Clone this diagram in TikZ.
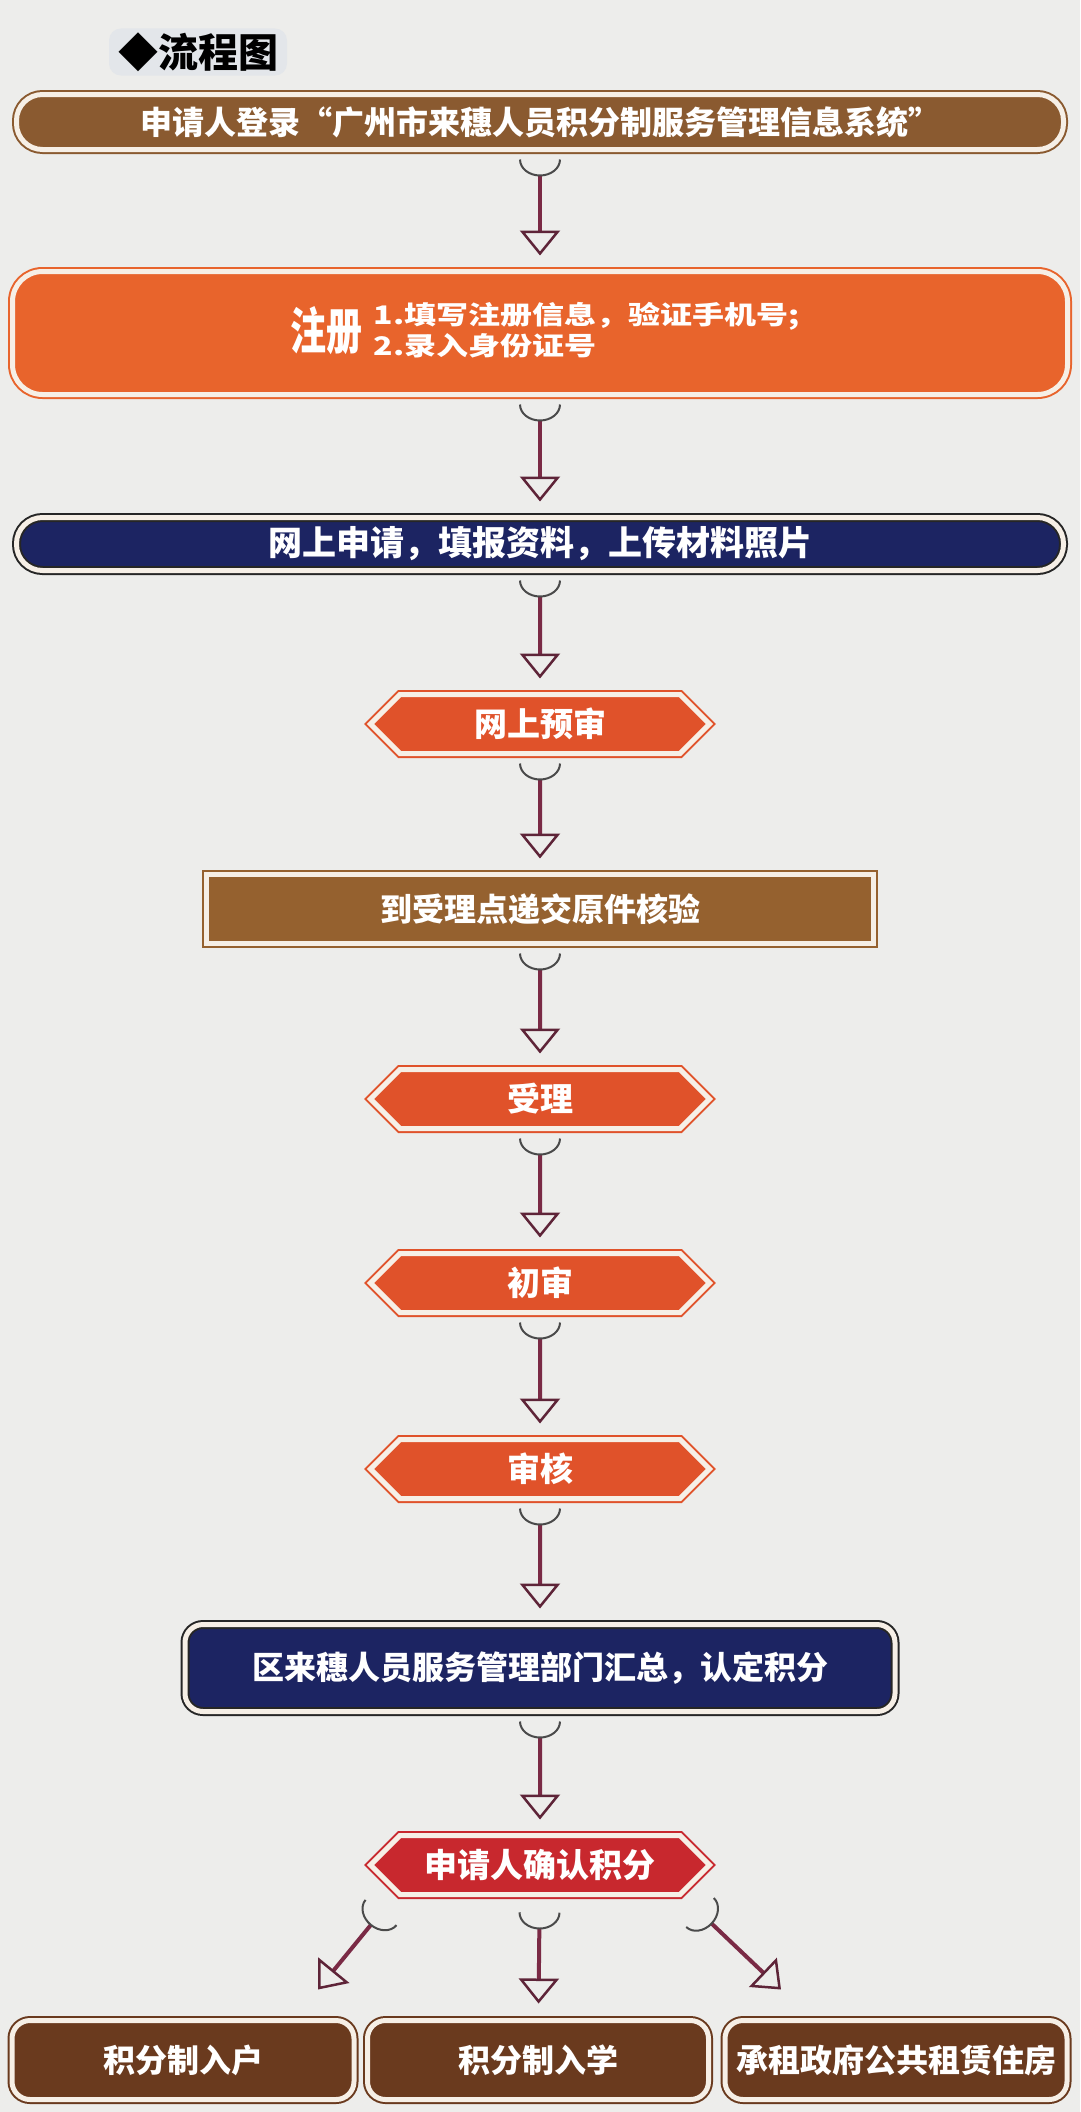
\documentclass[tikz,border=0pt]{standalone}
\usepackage{fontspec}
\usepackage{graphicx}
\newfontfamily\cjk{Noto Sans CJK SC}
\usetikzlibrary{arrows.meta}
\usetikzlibrary{positioning}
\usetikzlibrary{shapes.symbols}
\definecolor{paper}{HTML}{EDEDEB}
\definecolor{titlebg}{HTML}{E3E6EA}
\definecolor{cream}{HTML}{F6EFE6}
\definecolor{brownA}{HTML}{8A5A30}
\definecolor{brownB}{HTML}{95612F}
\definecolor{brownC}{HTML}{6A3A1E}
\definecolor{orangeA}{HTML}{E8642C}
\definecolor{orangeB}{HTML}{E0522A}
\definecolor{navy}{HTML}{1C2462}
\definecolor{redA}{HTML}{C8282E}
\definecolor{stem}{HTML}{7A2A45}
\definecolor{cupc}{HTML}{4A4A4A}
\definecolor{tipc}{HTML}{5E2438}
\tikzset{box/.style = {draw=#1, fill=#1, double=cream, double distance=5pt,
                       line width=2pt, text=white, inner sep=0pt, align=center,
                       font=\cjk\bfseries\fontsize{32}{34}\selectfont}}
\tikzset{pill/.style = {box=#1, rounded corners=26pt}}
\tikzset{hexbox/.style = {box=#1, shape=signal, signal to=east and west,
                          signal from=nowhere, signal pointer angle=90,
                          minimum width=339pt, minimum height=59pt,
                          font=\cjk\bfseries\fontsize{33}{35}\selectfont}}
\tikzset{flow/.style = {draw=stem, line width=4pt,
                        {Arc Barb[reversed, width=42pt, length=17pt, line width=2pt, color=cupc]}-{Triangle[open, width=40pt, length=25pt, line width=2.5pt, color=tipc]}}}

\begin{document}
\begin{tikzpicture}[x=1pt,y=-1pt]
			\fill [paper] (0,0) rectangle (1080,2112);
			\useasboundingbox (0,0) rectangle (1080,2112);
			\node [fill=titlebg, rounded corners=12pt, inner xsep=9pt, inner ysep=4pt,
			       font=\cjk\bfseries\fontsize{40}{44}\selectfont] (title) at (198,52) {◆流程图};
			\node [pill=brownA, minimum width=1047pt, minimum height=55pt] (login) at (540,122)
			      {申请人登录“广州市来穗人员积分制服务管理信息系统”};
			\node [box=orangeA, rounded corners=30pt, minimum width=1055pt, minimum height=123pt] (reg) at (540,333)
			      {\hspace{10pt}\raisebox{-12pt}{\scalebox{0.72}[1]{\fontsize{50}{52}\selectfont 注册}}\hspace{11pt}%
			       \scalebox{1}[0.8]{\fontsize{32}{36}\selectfont\begin{tabular}{@{}l@{}}1.填写注册信息，验证手机号;\\2.录入身份证号\end{tabular}}};
			\node [pill=navy, draw=black!85, minimum width=1047pt, minimum height=53pt,
			       font=\cjk\bfseries\fontsize{34}{36}\selectfont] (apply) at (540,544)
			      {网上申请，填报资料，上传材料照片};
			\node [hexbox=orangeB] (pre) at (540,724) {网上预审};
			\node [box=brownB, minimum width=667pt, minimum height=69pt] (submit) at (540,909)
			      {到受理点递交原件核验};
			\node [hexbox=orangeB] (accept) at (540,1099) {受理};
			\node [hexbox=orangeB] (first) at (540,1283) {初审};
			\node [hexbox=orangeB] (check) at (540,1469) {审核};
			\node [box=navy, draw=black!85, rounded corners=18pt, minimum width=710pt, minimum height=87pt] (sum) at (540,1668)
			      {区来穗人员服务管理部门汇总，认定积分};
			\node [hexbox=redA] (confirm) at (540,1865) {申请人确认积分};
			\node [box=brownC, rounded corners=18pt, minimum width=342pt, minimum height=79pt] (hukou) at (183,2060) {积分制入户};
			\node [box=brownC, rounded corners=18pt, minimum width=341pt, minimum height=79pt] (school) at (538,2060) {积分制入学};
			\node [box=brownC, rounded corners=18pt, minimum width=342pt, minimum height=79pt] (house) at (896,2060) {承租政府公共租赁住房};
			\coordinate (l0) at ([shift={(-159,17)}]confirm.south);
			\coordinate (l1) at ([shift={(135,-30)}]hukou.north);
			\coordinate (r0) at ([shift={(160,17)}]confirm.south);
			\coordinate (r1) at ([shift={(-115,-30)}]house.north);
			\draw [flow, shorten <=9pt, shorten >=15pt] (login) -- (reg);
			\draw [flow, shorten <=9pt, shorten >=15pt] (reg) -- (apply);
			\draw [flow, shorten <=9pt, shorten >=15pt] (apply) -- (pre);
			\draw [flow, shorten <=9pt, shorten >=15pt] (pre) -- (submit);
			\draw [flow, shorten <=9pt, shorten >=15pt] (submit) -- (accept);
			\draw [flow, shorten <=9pt, shorten >=15pt] (accept) -- (first);
			\draw [flow, shorten <=9pt, shorten >=15pt] (first) -- (check);
			\draw [flow, shorten <=9pt, shorten >=15pt] (check) -- (sum);
			\draw [flow, shorten <=9pt, shorten >=15pt] (sum) -- (confirm);
			\draw [flow, shorten <=17pt, shorten >=16pt] (confirm) -- (school);
			\draw [flow] (l0) -- (l1);
			\draw [flow] (r0) -- (r1);
\end{tikzpicture}
\end{document}
